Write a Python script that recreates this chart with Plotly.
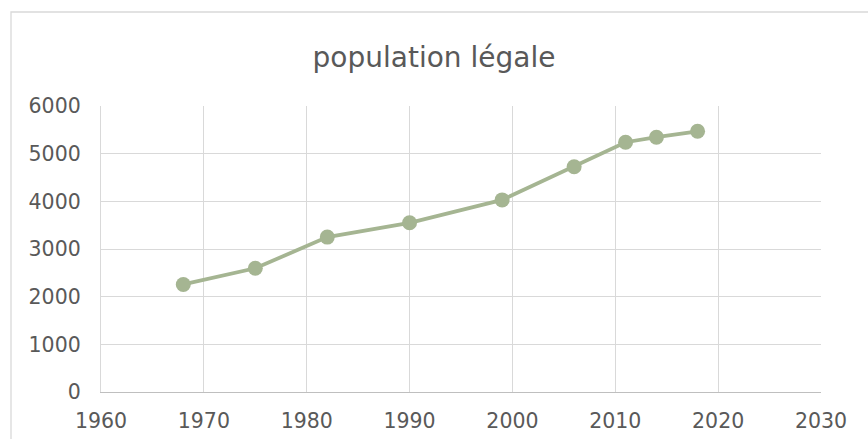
import plotly.graph_objects as go

# Legal population by census year
years = [1968, 1975, 1982, 1990, 1999, 2006, 2011, 2014, 2018]
population = [2256, 2596, 3250, 3550, 4030, 4724, 5240, 5345, 5470]

x_ticks = [1960, 1970, 1980, 1990, 2000, 2010, 2020, 2030]
y_ticks = [0, 1000, 2000, 3000, 4000, 5000, 6000]

line_color = "#A5B592"
text_color = "#595959"
grid_color = "#D9D9D9"
font_family = "'DejaVu Sans', sans-serif"

fig = go.Figure()
fig.add_trace(go.Scatter(
    x=years,
    y=population,
    mode="lines+markers",
    line=dict(color=line_color, width=3.8),
    marker=dict(color=line_color, size=15),
    showlegend=False,
))

fig.update_layout(
    width=868,
    height=439,
    margin=dict(l=101, r=47, t=106, b=47, autoexpand=False),
    paper_bgcolor="white",
    plot_bgcolor="white",
    font=dict(family=font_family, color=text_color),
    title=dict(
        text="population légale",
        x=0.5,
        xanchor="center",
        y=1 - 57 / 439,
        yanchor="middle",
        font=dict(size=28, color=text_color, family=font_family),
    ),
    xaxis=dict(
        range=[1960, 2030],
        tickvals=x_ticks,
        ticktext=[str(v) for v in x_ticks],
        showgrid=True,
        gridcolor=grid_color,
        gridwidth=1.3,
        zeroline=False,
        showline=True,
        linecolor="#BFBFBF",
        linewidth=1.3,
        mirror=False,
        ticks="outside",
        ticklen=10,
        tickcolor="rgba(0,0,0,0)",
        tickfont=dict(size=20.5, color=text_color),
        automargin=False,
        fixedrange=True,
    ),
    yaxis=dict(
        range=[0, 6000],
        tickvals=y_ticks,
        ticktext=[str(v) for v in y_ticks],
        showgrid=True,
        gridcolor=grid_color,
        gridwidth=1.3,
        zeroline=False,
        showline=True,
        linecolor=grid_color,
        linewidth=1.3,
        ticks="outside",
        ticklen=15,
        tickcolor="rgba(0,0,0,0)",
        tickfont=dict(size=20.5, color=text_color),
        automargin=False,
        fixedrange=True,
    ),
    shapes=[
        # chart-area frame
        dict(
            type="rect",
            xref="paper",
            yref="paper",
            x0=(11 - 101) / 720,
            x1=1.2,
            y0=-0.3,
            y1=(392 - 12) / 286,
            line=dict(color="#D9D9D9", width=1.3),
            fillcolor="rgba(0,0,0,0)",
            layer="below",
        ),
    ],
)

fig.write_html("out.html")
